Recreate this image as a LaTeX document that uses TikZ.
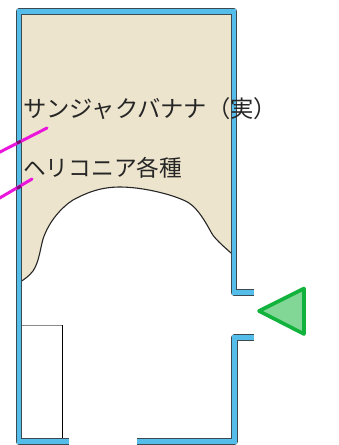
\documentclass[tikz,border=0pt]{standalone}
\usepackage{fontspec}
\newfontfamily\cjk{Noto Sans CJK JP}
\definecolor{wallblue}{HTML}{55BDE9}
\definecolor{walledge}{HTML}{3A4A50}
\definecolor{cream}{HTML}{ECE4CC}
\definecolor{tribord}{HTML}{12B33C}
\definecolor{trifill}{HTML}{82D796}
\definecolor{leader}{HTML}{EA16DC}
\tikzset{
  wallout/.style={draw=walledge,line width=6.4pt,line join=round},
  wallin/.style={draw=wallblue,line width=4.8pt,line join=miter},
  label/.style={anchor=west,inner sep=0pt,text=black!85},
  leaderline/.style={draw=leader,line width=3pt,line cap=round},
}
\begin{document}
\begin{tikzpicture}[x=1pt,y=-1pt]
\useasboundingbox (0,0) rectangle (338,445);
\fill[white] (0,0) rectangle (338,445);
% planting bed
\fill[cream] (20,13) -- (231,13) -- (231,253)
  .. controls (222,245) and (214,238) .. (211,232)
  .. controls (205,221) and (198,209) .. (189,203)
  .. controls (178,196) and (145,187) .. (120,187)
  .. controls (100,187) and (86,193) .. (73,200)
  .. controls (62,207) and (49,221) .. (43,239)
  .. controls (40,250) and (39,262) .. (33,271)
  .. controls (29,276) and (25,279) .. (20,282) -- cycle;
\draw[black!85,line width=1.1pt] (231,253)
  .. controls (222,245) and (214,238) .. (211,232)
  .. controls (205,221) and (198,209) .. (189,203)
  .. controls (178,196) and (145,187) .. (120,187)
  .. controls (100,187) and (86,193) .. (73,200)
  .. controls (62,207) and (49,221) .. (43,239)
  .. controls (40,250) and (39,262) .. (33,271)
  .. controls (29,276) and (25,279) .. (20,282);
% bench
\fill[white] (21,325) rectangle (62,440);
\draw[black!45,line width=.8pt] (21,325) -- (62,325);
\draw[black,line width=.8pt] (62,325) -- (62,440);
\draw[black,line width=1pt] (21.5,281) -- (21.5,325);
% walls
\coordinate (wa) at (69,441.5);
\coordinate (wb) at (19,441.5);
\coordinate (wc) at (19,11.5);
\coordinate (wd) at (234,11.5);
\coordinate (we) at (234,292.5);
\coordinate (wf) at (254,292.5);
\coordinate (wg) at (254,337.5);
\coordinate (wh) at (234.5,337.5);
\coordinate (wi) at (234.5,441.5);
\coordinate (wj) at (137,441.5);
\draw[wallout] (wa) -- (wb) -- (wc) -- (wd) -- (we) -- (wf);
\draw[wallout] (wg) -- (wh) -- (wi) -- (wj);
\draw[wallin] (wa) -- (wb) -- (wc) -- (wd) -- (we) -- (wf);
\draw[wallin] (wg) -- (wh) -- (wi) -- (wj);
% leaders
\coordinate (la) at (47,128);
\coordinate (lb) at (-2,153);
\coordinate (lc) at (32,179);
\coordinate (ld) at (-2,199);
\draw[leaderline] (la) -- (lb);
\draw[leaderline] (lc) -- (ld);
\draw[draw=leader!55!black,line width=3pt] (17,143.2) -- (21,141.1);
\draw[draw=leader!55!black,line width=3pt] (17,188.5) -- (21,186.2);
% labels
\node[label] (t1) at (23,108.5) {\cjk\fontsize{23.3}{24}\selectfont サンジャクバナナ（実）};
\node[label] (t2) at (23,167.5) {\cjk\fontsize{22.7}{24}\selectfont ヘリコニア各種};
% viewpoint
\filldraw[draw=tribord,fill=trifill,line width=3.6pt,line join=round] (259,311) -- (304,288.5) -- (304,334) -- cycle;
\end{tikzpicture}
\end{document}
